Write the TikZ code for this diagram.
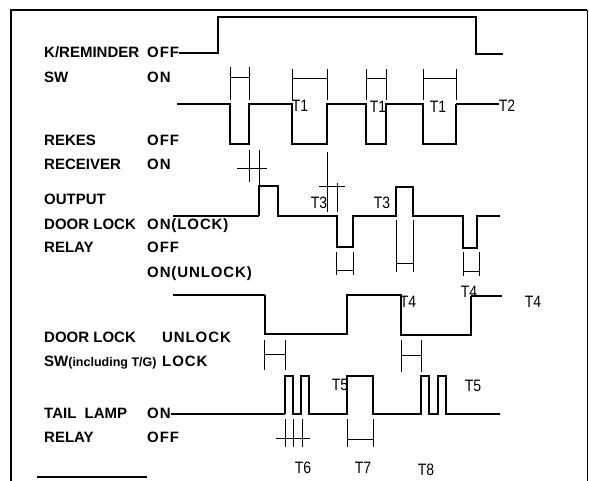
\documentclass[tikz,border=0pt]{standalone}
\usepackage{fontspec}
\setmainfont{Liberation Sans}
\newfontfamily\tfont[FakeStretch=0.85]{Liberation Sans}
\newfontfamily\vfont[LetterSpace=6]{Liberation Sans}
\begin{document}
\begin{tikzpicture}[x=1pt,y=-1pt,
  lab/.style={anchor=base west,inner sep=0,font=\bfseries\fontsize{15}{16}\selectfont},
  val/.style={anchor=base west,inner sep=0,font=\vfont\bfseries\fontsize{15}{16}\selectfont},
  tl/.style={anchor=center,inner sep=0,font=\tfont\fontsize{16.5}{17}\selectfont},
  sig/.style={line width=2pt,line join=miter},
  thin/.style={line width=1.2pt},
  dim/.style={line width=0.8pt},
  frm/.style={line width=1.8pt}]
\useasboundingbox (0,0) rectangle (589,481);
% frame
\draw[frm] (11,481) -- (11,10) -- (587,10);
\draw[line width=1pt] (587,10) -- (587,481);
\draw[thin] (37,477) -- (147,477);
% labels
\node[lab] (kr) at (44,57.5) {K/REMINDER};
\node[val] (kroff) at (147,57.5) {OFF};
\node[lab] (sw) at (44,82.5) {SW};
\node[val] (swon) at (147,82.5) {ON};
\node[lab] (rk) at (44,145.5) {REKES};
\node[val] (rkoff) at (147,145.5) {OFF};
\node[lab] (rc) at (44,169.5) {RECEIVER};
\node[val] (rcon) at (147,169.5) {ON};
\node[lab] (op) at (44,204.5) {OUTPUT};
\node[lab] (dl) at (44,229.5) {DOOR LOCK};
\node[val] (dlon) at (147,229.5) {ON(LOCK)};
\node[lab] (rl) at (44,252.5) {RELAY};
\node[val] (rloff) at (147,252.5) {OFF};
\node[val] (rlun) at (147,277.5) {ON(UNLOCK)};
\node[lab] (ds) at (44,342.5) {DOOR LOCK};
\node[val] (dsun) at (162,342.5) {UNLOCK};
\node[lab] (dsw) at (44,366.5) {SW{\fontsize{12.5}{13}\selectfont(including T/G)}};
\node[val] (dslk) at (162,366.5) {LOCK};
\node[lab] (tlp) at (44,418.5) {TAIL\ \ LAMP};
\node[val] (tlon) at (147,418.5) {ON};
\node[lab] (tr) at (44,442.5) {RELAY};
\node[val] (troff) at (147,442.5) {OFF};
% K/REMINDER SW
\draw[sig] (kroff.base east) ++(0,-4.5) -- (218,53) -- (218,17) -- (476,17) -- (476,54) -- (503,54);
% SW (REKES)
\draw[sig] (177,104) -- (230,104) -- (230,144) -- (249,144) -- (249,104) -- (292,104) -- (292,144) -- (327,144) -- (327,104) -- (366,104) -- (366,144) -- (386,144) -- (386,104) -- (423,104) -- (423,144) -- (456,144) -- (456,104);
\node[tl] (t1a) at (300,106) {T1};
\node[tl] (t1b) at (378,107) {T1};
\node[tl] (t1c) at (438,107) {T1};
\node[tl] (t2) at (507,106) {T2};
\draw[thin] (456,104) -- (t2.west |- 0,104);
% T1 dims
\foreach \a/\b/\t/\h in {230/249/67/77,292/327/69/78,366/386/69/78,423/456/69/78}{
  \draw[dim] (\a,\t) -- (\a,100) (\b,\t) -- (\b,100) (\a,\h) -- (\b,\h);
}
% receiver dim
\draw[dim] (249,150) -- (249,182) (259,150) -- (259,186) (237,168) -- (267,168);
% OUTPUT DOOR LOCK RELAY
\draw[thin] (173,216) -- (259,216);
\draw[sig] (259,216) -- (259,186) -- (278,186) -- (278,216) -- (337,216) -- (337,247) -- (353,247) -- (353,216) -- (396,216) -- (396,187) -- (413,187) -- (413,216) -- (463,216) -- (463,248) -- (477,248) -- (477,216) -- (500,216);
% T3 dims
\draw[dim] (327,152) -- (327,212) (319,186) -- (345,186) (337,183) -- (337,212);
\node[tl] (t3a) at (319,203) {T3};
\node[tl] (t3b) at (382,203) {T3};
% brackets below relay
\foreach \a/\b/\t/\bt/\h in {336/353/252/275/270,396/413/220/272/263,463/479/252/276/271}{
  \draw[dim] (\a,\t) -- (\a,\bt) (\b,\t) -- (\b,\bt) (\a,\h) -- (\b,\h);
}
% DOOR LOCK SW
\draw[thin] (173,295) -- (265,295);
\draw[sig] (265,295) -- (265,334) -- (347,334) -- (347,295) -- (401,295) -- (401,335) -- (471,335) -- (471,296);
\draw[thin] (471,296) -- (502,296);
\node[tl] (t4a) at (408,302) {T4};
\node[tl] (t4b) at (469,292) {T4};
\node[tl] (t4c) at (533,302) {T4};
\foreach \a/\b/\t/\bt/\h in {264/285/340/370/354,401/421/340/372/355}{
  \draw[dim] (\a,\t) -- (\a,\bt) (\b,\t) -- (\b,\bt) (\a,\h) -- (\b,\h);
}
% TAIL LAMP RELAY
\draw[thin] (tlon.base east) ++(0,-4.5) -- (285,414);
\draw[sig] (285,414) -- (285,376) -- (293,376) -- (293,414) -- (301,414) -- (301,376) -- (309,376) -- (309,414) -- (347,414) -- (347,376) -- (373,376) -- (373,414) -- (421,414) -- (421,376) -- (429,376) -- (429,414) -- (438,414) -- (438,376) -- (446,376) -- (446,414) -- (500,414);
\node[tl] (t5a) at (340,385) {T5};
\node[tl] (t5b) at (473,386) {T5};
\draw[dim] (285,419) -- (285,447) (293,419) -- (293,447) (302,419) -- (302,447) (276,438) -- (310,438);
\draw[dim] (347,419) -- (347,447) (373,419) -- (373,447) (347,439) -- (373,439);
\node[tl] (t6) at (303,468) {T6};
\node[tl] (t7) at (363,468) {T7};
\node[tl] (t8) at (426,470) {T8};
\end{tikzpicture}
\end{document}
